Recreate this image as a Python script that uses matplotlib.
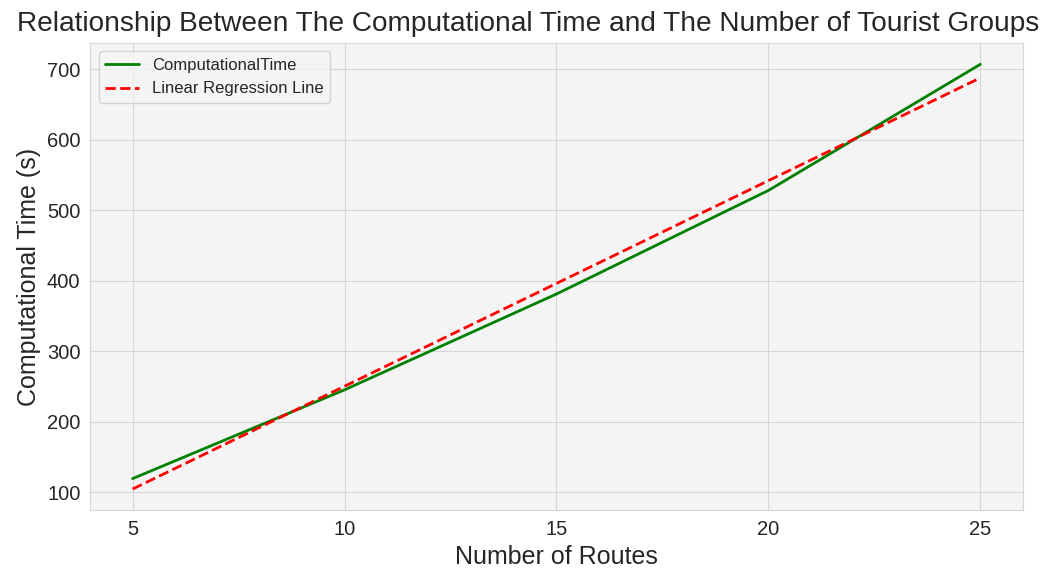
import matplotlib
matplotlib.use("Agg")
import matplotlib.pyplot as plt
import numpy as np
import seaborn as sns

# Computational time measured for each number of routes
routes = [5, 10, 15, 20, 25]
comp_time = [119, 245, 381, 528, 707]

sns.set_style("whitegrid", {"axes.facecolor": "#f4f4f4", "grid.color": "#d6d6d6",
                            "axes.edgecolor": "#d6d6d6"})
plt.rcParams["font.family"] = ["Liberation Sans", "DejaVu Sans"]

fig, ax = plt.subplots(figsize=(10.49, 5.74), dpi=100)
fig.subplots_adjust(left=0.086, right=0.975, top=0.925, bottom=0.111)

ax.plot(routes, comp_time, color="green", linewidth=2, label="ComputationalTime")

# Least-squares fit through the measurements
slope, intercept = np.polyfit(routes, comp_time, 1)
fit = [slope * r + intercept for r in routes]
ax.plot(routes, fit, color="red", linestyle="--", linewidth=2, label="Linear Regression Line")

ax.set_xticks([5, 10, 15, 20, 25])
ax.tick_params(labelsize=14.5)
ax.set_xlabel("Number of Routes", fontsize=18)
ax.set_ylabel("Computational Time (s)", fontsize=18)
fig.suptitle("Relationship Between The Computational Time and The Number of Tourist Groups",
             fontsize=20.2, x=0.503, y=0.98)
ax.legend(loc="upper left", fontsize=12)

fig.savefig("out.png", dpi=100)
